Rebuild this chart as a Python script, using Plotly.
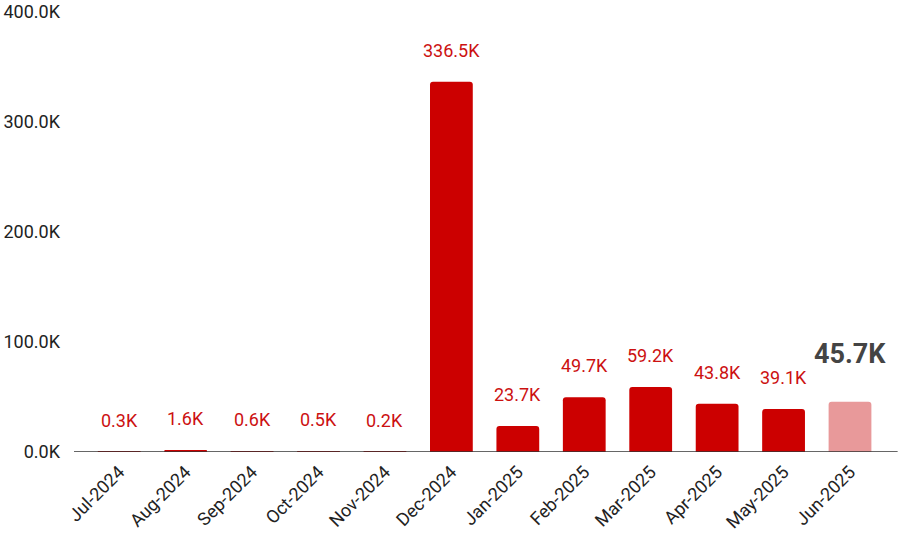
import plotly.graph_objects as go

months = ["Jul-2024", "Aug-2024", "Sep-2024", "Oct-2024", "Nov-2024", "Dec-2024",
          "Jan-2025", "Feb-2025", "Mar-2025", "Apr-2025", "May-2025", "Jun-2025"]
values = [300, 1600, 600, 500, 200, 336500, 23700, 49700, 59200, 43800, 39100, 45700]
labels = ["0.3K", "1.6K", "0.6K", "0.5K", "0.2K", "336.5K", "23.7K", "49.7K",
          "59.2K", "43.8K", "39.1K", "45.7K"]
ytick_vals = [0, 100000, 200000, 300000, 400000]
ytick_text = ["0.0K", "100.0K", "200.0K", "300.0K", "400.0K"]

colors = ["#cc0000"] * (len(months) - 1) + ["#e8999a"]

fig = go.Figure(go.Bar(x=months, y=values, marker_color=colors, marker_line_width=0,
                       hoverinfo="skip"))

for i, (m, v, t) in enumerate(zip(months, values, labels)):
    last = i == len(months) - 1
    fig.add_annotation(x=m, y=v, text=t, showarrow=False, yanchor="bottom",
                       yshift=30 if last else 19,
                       font=dict(family="Roboto", size=27 if last else 18,
                                 color="#444444" if last else "#cc1111",
                                 weight="bold" if last else "normal"))

fig.add_shape(type="line", xref="paper", yref="y", x0=-0.015, x1=1.012, y0=0, y1=0,
              line=dict(color="#333333", width=1.5), layer="above")

fig.update_layout(
    width=903, height=534,
    margin=dict(l=86, r=15, t=12, b=82),
    plot_bgcolor="white", paper_bgcolor="white",
    bargap=0.356,
    barcornerradius=3,
    showlegend=False,
    font=dict(family="Roboto", size=18, color="#222222"),
    xaxis=dict(tickangle=-45, showgrid=False, showline=False, ticks="",
               automargin=False, ticklabelstandoff=5,
               tickfont=dict(size=18, color="#222222")),
    yaxis=dict(range=[0, 400000], tickvals=ytick_vals, ticktext=ytick_text,
               showgrid=False, zeroline=False, showline=False, ticks="",
               automargin=False,
               ticklabelstandoff=25,
               tickfont=dict(size=18, color="#222222")),
)

fig.write_html("out.html")
